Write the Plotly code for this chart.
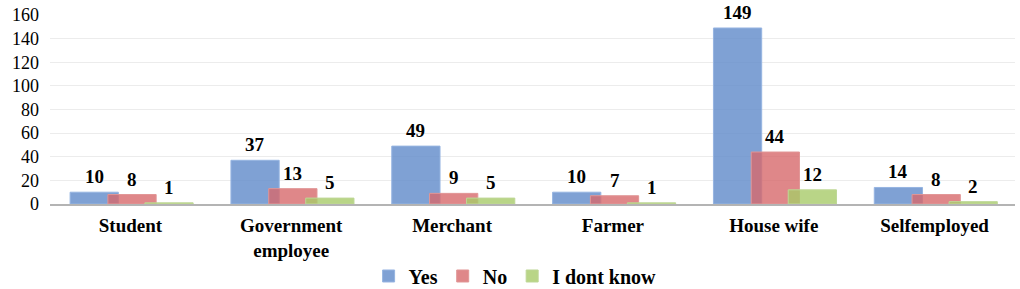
import plotly.graph_objects as go

categories = ["Student", "Government<br>employee", "Merchant", "Farmer", "House wife", "Selfemployed"]
yes_vals = [10, 37, 49, 10, 149, 14]
no_vals = [8, 13, 9, 7, 44, 8]
idk_vals = [1, 5, 5, 1, 12, 2]

SERIF = "Liberation Serif"
BAR_W = 0.3

series = [
    ("Yes", yes_vals, "rgba(104,145,205,0.85)", "rgba(150,180,225,1)", -0.375),
    ("No", no_vals, "rgba(215,105,108,0.8)", "rgba(225,150,150,1)", -0.14),
    ("I dont know", idk_vals, "rgba(168,202,105,0.8)", "rgba(190,215,150,1)", 0.09),
]

fig = go.Figure()
xs = list(range(len(categories)))
for name, vals, col, lcol, off in series:
    fig.add_trace(go.Bar(
        name="<b>%s</b>" % name, x=xs, y=vals, offset=off, width=BAR_W,
        marker=dict(color=col, line=dict(color=lcol, width=1)),
        cliponaxis=False,
    ))
    for xi, v in zip(xs, vals):
        fig.add_annotation(
            x=xi + off + BAR_W / 2, y=v, text="<b>%d</b>" % v,
            showarrow=False, yanchor="bottom", xanchor="center", yshift=3,
            font=dict(family=SERIF, size=19, color="black"),
        )

fig.update_layout(
    width=1020, height=289,
    barmode="overlay",
    plot_bgcolor="white", paper_bgcolor="white",
    margin=dict(l=50, r=5, t=15, b=85, autoexpand=False),
    font=dict(family=SERIF, color="black"),
    legend=dict(orientation="h", xref="container", x=0.505, xanchor="center",
                yref="container", y=0.045, yanchor="middle",
                font=dict(family=SERIF, size=20, color="black"),
                itemwidth=30, traceorder="normal"),
    showlegend=True,
)
fig.update_xaxes(
    tickvals=xs, ticktext=["<b>%s</b>" % c for c in categories],
    range=[-0.5, len(categories) - 0.5],
    tickfont=dict(family=SERIF, size=19, color="black"),
    showline=True, linecolor="#b4b4b4", linewidth=2, ticks="", showgrid=False,
    automargin=False, ticklabelstandoff=3,
)
fig.update_yaxes(
    range=[0, 160], dtick=20, showgrid=True, gridcolor="#ececec", gridwidth=1,
    tickfont=dict(family=SERIF, size=18, color="black"),
    zeroline=False, ticks="", automargin=False, ticklabelstandoff=10,
)

fig.write_html("out.html", post_script="document.body.style.margin='0';",
               config={"displayModeBar": False})
